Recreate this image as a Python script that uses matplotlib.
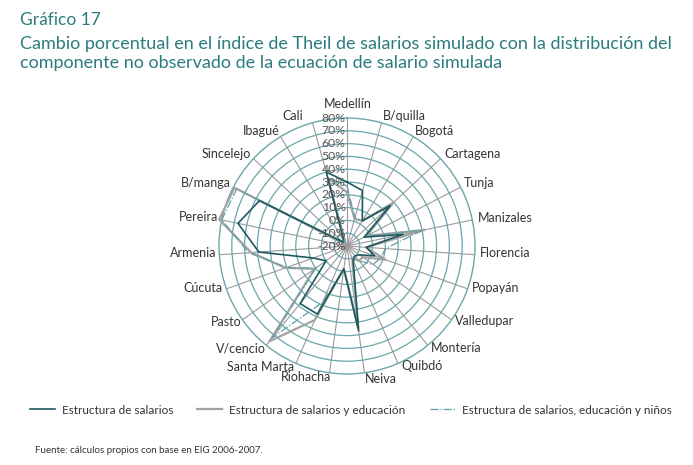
import matplotlib.pyplot as plt
import matplotlib.transforms as mtransforms
import numpy as np

plt.rcParams['font.family'] = ['Lato', 'DejaVu Sans']

cities = ['Medellín', 'B/quilla', 'Bogotá', 'Cartagena', 'Tunja', 'Manizales',
          'Florencia', 'Popayán', 'Valledupar', 'Montería', 'Quibdó', 'Neiva',
          'Riohacha', 'Santa Marta', 'V/cencio', 'Pasto', 'Cúcuta', 'Armenia',
          'Pereira', 'B/manga', 'Sincelejo', 'Ibagué', 'Cali']

salarios = [30, 25, 3, 26, -5, 25, -5, 3, -8, -10, -8, 47,
            -2, 38, 38, 0, 8, 49, 67, 57, -15, -15, 40]
salarios_educ = [22, 2, 3, 30, -3, 42, -5, 12, -5, -5, -10, 44,
                 -2, 43, 76, 11, 31, 55, 82, 79, -17, -17, 35]
salarios_educ_ninos = [27, 3, 3, 28, -3, 40, 10, 8, 5, -5, -8, 44,
                       -2, 28, 72, 10, 30, 57, 80, 77, -17, -17, 35]

ring_ticks = list(range(-20, 81, 10))

# where the category names sit (pixel centres, as in the original layout)
label_px = [(348, 104), (404, 116), (435, 131), (473, 154), (479, 183), (505, 218),
            (505, 253), (496, 288), (485, 321), (456, 348), (422, 366), (381, 379),
            (306, 377), (261, 367), (241, 348), (226, 322), (203, 288), (193, 253),
            (199, 217), (206, 183), (226, 154), (261, 131), (293, 116)]

teal_dark = '#1d5a60'
teal_grid = '#6aa6ab'
gray_line = '#a3a3a3'
title_col = '#2c7b80'

W, H = 693, 465
n = len(cities)
angles = np.arange(n) * 2 * np.pi / n

fig = plt.figure(figsize=(W / 100, H / 100), dpi=100)
fig.text(0.029, 0.957, 'Gráfico 17', fontsize=12.5, color=title_col, va='center')
fig.text(0.029, 0.906, 'Cambio porcentual en el índice de Theil de salarios simulado con la distribución del',
         fontsize=13, color=title_col, va='center')
fig.text(0.029, 0.864, 'componente no observado de la ecuación de salario simulada',
         fontsize=13, color=title_col, va='center')

ax = fig.add_axes([0.3160, 0.1957, 0.3694, 0.5505], projection='polar')
ax.set_theta_zero_location('N')
ax.set_theta_direction(-1)
ax.set_ylim(-20, 80)
ax.set_yticks(ring_ticks[1:-1])
ax.set_yticklabels([])
ax.set_xticks(angles)
ax.set_xticklabels([])
ax.yaxis.grid(True, color=teal_grid, lw=0.9)
ax.xaxis.grid(True, color='#9a9a9a', lw=0.8)
ax.spines['polar'].set_color(teal_grid)
ax.spines['polar'].set_linewidth(1.0)
ax.set_facecolor('none')

closed = lambda v: np.append(v, v[0])
th = closed(angles)
ax.plot(th, closed(salarios_educ), color=gray_line, lw=1.6, clip_on=False,
        label='Estructura de salarios y educación', zorder=3)
ax.plot(th, closed(salarios_educ_ninos), color='#5e9fa6', lw=0.9, ls='-.', clip_on=False,
        label='Estructura de salarios, educación y niños', zorder=4)
ax.plot(th, closed(salarios), color=teal_dark, lw=1.2, clip_on=False,
        label='Estructura de salarios', zorder=5)

# radial tick labels along the vertical axis
off = mtransforms.offset_copy(ax.transData, fig=fig, x=-1, y=0, units='points')
for v in ring_ticks:
    ax.text(0, v, f'{v}%', transform=off, ha='right', va='center',
            fontsize=8.8, color='#555555', zorder=6)

# category labels
for (px, py), name in zip(label_px, cities):
    fig.text(px / W, 1 - py / H, name, ha='center', va='center',
             fontsize=9, color='#333333')

handles, labels = ax.get_legend_handles_labels()
order = [2, 0, 1]
fig.legend([handles[i] for i in order], [labels[i] for i in order],
           loc='center', bbox_to_anchor=(0.506, 0.118), ncol=3, frameon=False,
           fontsize=8.5, handlelength=2.1, handletextpad=0.6, columnspacing=2.05,
           labelcolor='#333333')

fig.text(0.05, 0.032, 'Fuente: cálculos propios con base en EIG 2006-2007.',
         fontsize=7, color='#333333', va='center')

fig.savefig('out.png', dpi=100)
